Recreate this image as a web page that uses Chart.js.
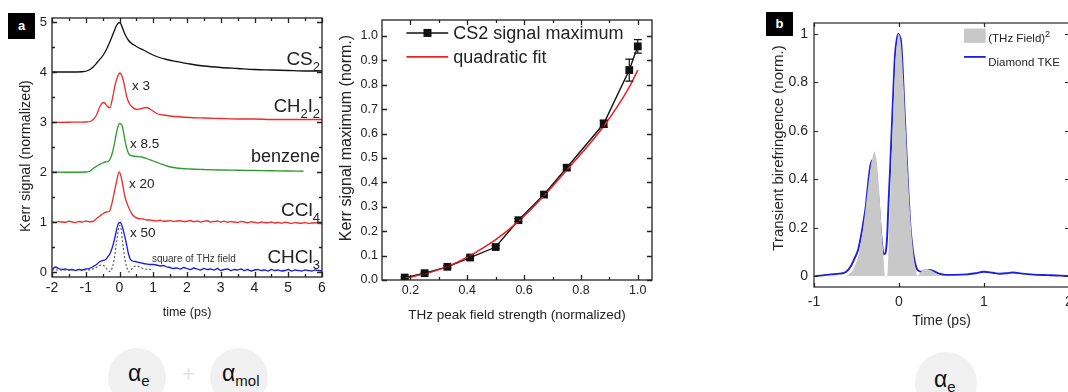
<!DOCTYPE html>
<html><head><meta charset="utf-8">
<script src="https://cdn.jsdelivr.net/npm/chart.js@4.4.1/dist/chart.umd.min.js"></script>
<style>
html,body{margin:0;padding:0;background:#fff;}
body{width:1068px;height:392px;overflow:hidden;position:relative;font-family:"Liberation Sans",Arial,sans-serif;}
canvas{position:absolute;top:0;}
#ca{left:0;}
#cb{left:335px;}
#cc{left:760px;}
.tag{position:absolute;background:#000;color:#fff;font-weight:bold;font-size:13px;line-height:26px;text-align:center;}
.circ{position:absolute;border-radius:50%;background:#f1f1f1;}
.al{position:absolute;font-size:23px;color:#111;white-space:nowrap;line-height:1;}
.al sub{font-size:15px;vertical-align:-5px;}
.plus{position:absolute;font-size:22px;color:#e4e4e4;line-height:1;}
</style></head>
<body>
<canvas id="ca" width="340" height="335"></canvas>
<canvas id="cb" width="330" height="335"></canvas>
<canvas id="cc" width="320" height="335"></canvas>
<div class="tag" style="left:8px;top:13px;width:27px;height:26px;">a</div>
<div class="tag" style="left:766px;top:12px;width:27px;height:24px;line-height:24px;">b</div>
<div class="circ" style="left:108px;top:348px;width:58px;height:58px;"></div>
<div class="circ" style="left:210px;top:348px;width:58px;height:58px;"></div>
<div class="circ" style="left:915px;top:352px;width:62px;height:62px;"></div>
<div class="al" style="left:128px;top:362px;">α<sub>e</sub></div>
<div class="al" style="left:222px;top:362px;">α<sub>mol</sub></div>
<div class="plus" style="left:182px;top:363px;">+</div>
<div class="al" style="left:934px;top:368px;">α<sub>e</sub></div>
<script>
// ---------- Panel a: Kerr signal traces (offset, normalized) ----------
const cs2T = [-2,-1.5,-1.1,-0.9,-0.78,-0.65,-0.48,-0.38,-0.28,-0.18,-0.08,0,0.05,0.11,0.18,0.26,0.36,0.46,0.58,0.71,0.9,1.1,1.4,1.69,2.09,2.5,3,3.5,4,4.5,5,5.5,6];
const cs2V = [4.0,4.0,4.005,4.04,4.1,4.2,4.34,4.46,4.61,4.78,4.94,4.99,4.95,4.84,4.73,4.64,4.57,4.53,4.48,4.44,4.37,4.31,4.25,4.21,4.16,4.12,4.09,4.07,4.05,4.04,4.03,4.02,4.02];

const ch2T = [-2,-1.5,-1,-0.87,-0.78,-0.68,-0.58,-0.48,-0.42,-0.36,-0.28,-0.2,-0.13,-0.05,0.01,0.06,0.11,0.17,0.23,0.3,0.36,0.51,0.65,0.8,0.95,1.1,1.3,1.5,2.09,2.5,3,3.5,4,4.5,5,5.5,6];
const ch2V = [2.99,2.995,3.0,3.01,3.05,3.14,3.31,3.39,3.37,3.31,3.29,3.5,3.74,3.92,3.98,3.94,3.84,3.65,3.47,3.36,3.31,3.25,3.27,3.29,3.24,3.17,3.14,3.12,3.09,3.08,3.07,3.06,3.06,3.05,3.05,3.05,3.05];

const bzT = [-2,-1.5,-1,-0.9,-0.78,-0.65,-0.53,-0.42,-0.33,-0.25,-0.18,-0.08,0,0.05,0.09,0.14,0.19,0.24,0.29,0.4,0.51,0.65,0.8,1,1.2,1.45,1.69,2.09,2.5,3,3.5,4,4.5,5,5.45];
const bzV = [2.0,1.995,2.0,2.01,2.07,2.13,2.17,2.2,2.21,2.3,2.47,2.81,2.97,2.96,2.9,2.72,2.54,2.42,2.35,2.32,2.31,2.3,2.27,2.22,2.17,2.11,2.08,2.06,2.05,2.04,2.035,2.03,2.025,2.02,2.015];

const cclT = [-2,-1.9,-1.8,-1.7,-1.6,-1.5,-1.4,-1.3,-1.2,-1.1,-1,-0.9,-0.8,-0.68,-0.58,-0.48,-0.38,-0.3,-0.24,-0.18,-0.1,-0.01,0.03,0.07,0.16,0.26,0.39,0.56,0.7,0.8,0.9,
  1,1.1,1.2,1.3,1.4,1.5,1.6,1.7,1.8,1.9,2,2.1,2.2,2.3,2.4,2.5,2.6,2.7,2.8,2.9,3,3.1,3.2,3.3,3.4,3.5,3.6,3.7,3.8,3.9,4,4.1,4.2,4.3,4.4,4.5,4.6,4.7,4.8,4.9,5,5.1,5.2,5.3,5.4,5.5,5.6,5.7,5.8,5.9,6];
const cclV = [1.0,0.99,1.01,1.0,0.995,1.015,1.0,0.99,1.01,1.0,1.02,1.005,1.01,1.07,1.12,1.17,1.2,1.21,1.33,1.51,1.77,2.0,1.95,1.84,1.51,1.31,1.14,1.07,1.06,1.04,1.04,
  1.03,1.02,1.035,1.015,1.02,1.03,1.01,1.02,1.025,1.01,1.015,1.03,1.005,1.02,1.0,1.015,1.025,1.0,1.01,1.02,1.0,1.015,0.995,1.01,1.0,0.99,1.01,1.0,0.985,1.005,0.995,0.98,1.0,0.99,0.985,1.0,0.98,0.99,0.975,0.995,0.985,0.97,0.99,0.98,0.975,0.99,0.97,0.98,0.985,0.97,0.965];

const chclT = [-2,-1.9,-1.8,-1.7,-1.6,-1.5,-1.4,-1.3,-1.2,-1.1,-1,-0.9,-0.78,-0.68,-0.58,-0.5,-0.43,-0.35,-0.28,-0.2,-0.13,-0.04,0.03,0.07,0.11,0.16,0.21,0.26,0.31,0.38,0.46,0.58,0.71,0.8,0.9,1,1.1,1.2,1.3,1.4,1.5,1.58,
  1.7,1.8,1.9,2,2.1,2.2,2.3,2.4,2.5,2.6,2.7,2.8,2.9,3,3.1,3.2,3.3,3.4,3.5,3.6,3.7,3.8,3.9,4,4.1,4.2,4.3,4.4,4.5,4.6,4.7,4.8,4.9,5,5.1,5.2,5.3,5.4,5.5,5.6,5.7,5.8,5.9,6];
const chclV = [0.04,0.1,0.07,0.05,0.06,0.04,0.05,0.03,0.05,0.04,0.06,0.07,0.11,0.15,0.21,0.23,0.24,0.3,0.37,0.52,0.71,0.96,0.99,0.93,0.84,0.7,0.55,0.38,0.27,0.22,0.21,0.19,0.17,0.16,0.15,0.15,0.14,0.12,0.13,0.1,0.09,0.07,
  0.08,0.06,0.09,0.07,0.05,0.08,0.06,0.04,0.07,0.05,0.06,0.04,0.07,0.03,0.05,0.06,0.03,0.05,0.04,0.06,0.03,0.05,0.02,0.04,0.05,0.03,0.04,0.02,0.05,0.03,0.04,0.02,0.03,0.05,0.02,0.04,0.03,0.02,0.04,0.03,0.02,0.04,0.03,0.02];

const thzT = [-2,-1.5,-1,-0.75,-0.62,-0.53,-0.43,-0.35,-0.28,-0.22,-0.16,-0.08,0,0.05,0.09,0.14,0.19,0.24,0.29,0.35,0.41,0.5,0.56,0.7,0.85,0.95];
const thzV = [0.04,0.04,0.04,0.07,0.12,0.14,0.11,0.04,0.01,0.08,0.24,0.63,0.93,0.85,0.6,0.35,0.16,0.05,0.0,0.05,0.1,0.12,0.11,0.07,0.05,0.05];

const aXTicks = [-2,-1,0,1,2,3,4,5,6];
const aYTicks = [0,1,2,3,4,5];

// ---------- Middle panel: signal maximum vs field ----------
const fieldX = [0.18,0.25,0.33,0.41,0.5,0.58,0.67,0.75,0.88,0.97,1.0];
const kerrMax = [0.01,0.028,0.054,0.092,0.135,0.245,0.35,0.46,0.64,0.86,0.957];
const kerrErr = [0.004,0.004,0.005,0.006,0.006,0.006,0.008,0.01,0.015,0.045,0.028];
const fitX = [0.18,0.25,0.33,0.41,0.5,0.58,0.67,0.75,0.88,0.97,1.0];
const fitY = [0.007,0.025,0.055,0.1,0.165,0.24,0.345,0.45,0.63,0.79,0.86];
const bXTicks = [0.2,0.4,0.6,0.8,1.0];
const bYTicks = [0,0.1,0.2,0.3,0.4,0.5,0.6,0.7,0.8,0.9,1.0];

// ---------- Panel b: diamond TKE ----------
const tkeT = [-1,-0.9,-0.8,-0.7,-0.62,-0.56,-0.52,-0.48,-0.45,-0.42,-0.39,-0.37,-0.34,-0.31,-0.28,-0.26,-0.24,-0.21,-0.18,-0.16,-0.14,-0.126,-0.105,-0.086,-0.065,-0.047,-0.025,-0.008,0.01,0.024,0.04,0.059,0.085,0.11,0.135,0.16,0.185,0.21,0.24,0.27,0.31,0.36,0.41,0.47,0.55,0.65,0.8,0.9,1,1.1,1.19,1.27,1.34,1.45,1.58,1.75,1.9,2];
const tkeV = [0,0.003,0.007,0.01,0.018,0.045,0.075,0.11,0.16,0.22,0.29,0.36,0.45,0.48,0.445,0.39,0.31,0.17,0.09,0.095,0.16,0.28,0.44,0.6,0.78,0.913,0.98,1.0,0.99,0.97,0.88,0.73,0.53,0.35,0.2,0.114,0.06,0.03,0.02,0.018,0.02,0.025,0.02,0.01,0.005,0.005,0.007,0.012,0.018,0.014,0.01,0.012,0.015,0.01,0.006,0.004,0.002,0];
const thz2T = [-0.62,-0.55,-0.48,-0.42,-0.37,-0.33,-0.29,-0.26,-0.23,-0.2,-0.18,-0.165,-0.137,-0.12,-0.1,-0.08,-0.06,-0.04,-0.01,0.01,0.03,0.055,0.08,0.105,0.13,0.155,0.18,0.2,0.216,0.24,0.3,0.37,0.44,0.5];
const thz2V = [0,0.02,0.08,0.2,0.35,0.46,0.515,0.47,0.34,0.17,0.07,0,0,0.15,0.35,0.55,0.75,0.9,1.0,0.99,0.93,0.78,0.6,0.42,0.26,0.14,0.06,0.02,0,0.01,0.03,0.025,0.01,0];
const cXTicks = [-1,0,1,2];
const cYTicks = [0,0.2,0.4,0.6,0.8,1];

// ---------- helpers ----------
const FONT = '"Liberation Sans", Arial, Helvetica, sans-serif';
Chart.defaults.font.family = FONT;
const pts = (T, V) => T.map((t, i) => ({x: t, y: V[i]}));
const fixTicks = vals => s => { s.ticks = vals.map(v => ({value: v})); };

const framePlugin = {
  id: 'frame',
  afterDatasetsDraw(chart, args, o) {
    const {ctx, chartArea: a, scales: {x, y}} = chart;
    ctx.save();
    ctx.strokeStyle = o.color; ctx.lineWidth = o.width;
    ctx.strokeRect(a.left, a.top, a.right - a.left, a.bottom - a.top);
    ctx.beginPath();
    const xt = (vals, len) => vals.forEach(v => { const p = Math.round(x.getPixelForValue(v)) + 0.5;
      ctx.moveTo(p, a.bottom); ctx.lineTo(p, a.bottom - len);
      if (o.top) { ctx.moveTo(p, a.top); ctx.lineTo(p, a.top + len); } });
    const yt = (vals, len) => vals.forEach(v => { const p = Math.round(y.getPixelForValue(v)) + 0.5;
      ctx.moveTo(a.left, p); ctx.lineTo(a.left + len, p);
      if (o.right) { ctx.moveTo(a.right, p); ctx.lineTo(a.right - len, p); } });
    xt(o.xMajor || [], o.len); xt(o.xMinor || [], o.minLen);
    yt(o.yMajor || [], o.len); yt(o.yMinor || [], o.minLen);
    ctx.stroke();
    ctx.restore();
  }
};

const notesPlugin = {
  id: 'notes',
  afterDatasetsDraw(chart, args, o) {
    const {ctx, scales: {x, y}} = chart;
    ctx.save();
    for (const n of (o.marks || [])) {
      if (n.type === 'line') {
        ctx.strokeStyle = n.color; ctx.lineWidth = n.width;
        const py = y.getPixelForValue(n.y);
        ctx.beginPath(); ctx.moveTo(x.getPixelForValue(n.x1), py); ctx.lineTo(x.getPixelForValue(n.x2), py); ctx.stroke();
        if (n.marker) { const mx = x.getPixelForValue(n.marker); ctx.fillStyle = n.color; ctx.fillRect(mx - n.ms/2, py - n.ms/2, n.ms, n.ms); }
      } else if (n.type === 'box') {
        ctx.fillStyle = n.color;
        const x1 = x.getPixelForValue(n.x1), x2 = x.getPixelForValue(n.x2), y1 = y.getPixelForValue(n.y1), y2 = y.getPixelForValue(n.y2);
        ctx.fillRect(x1, y2, x2 - x1, y1 - y2);
      }
    }
    for (const n of (o.items || [])) {
      const fs = n.size, ss = n.subSize || Math.round(fs * 0.7);
      const segs = n.parts.map(p => ({...p, font: `${(p.sub || p.sup) ? ss : fs}px ${FONT}`}));
      let w = 0;
      segs.forEach(s => { ctx.font = s.font; s.w = ctx.measureText(s.t).width; w += s.w; });
      let px = n.x === 'right' ? chart.chartArea.right - 2 - w : x.getPixelForValue(n.x);
      const py = y.getPixelForValue(n.y);
      ctx.fillStyle = n.color || '#222'; ctx.textBaseline = 'alphabetic'; ctx.textAlign = 'left';
      segs.forEach(s => { ctx.font = s.font; ctx.fillText(s.t, px, py + (s.sub ? fs * 0.32 : s.sup ? -fs * 0.42 : 0)); px += s.w; });
    }
    for (const v of (o.vtitles || [])) {
      ctx.save();
      ctx.translate(v.cx, v.cy); ctx.rotate(-Math.PI / 2);
      ctx.font = `${v.size}px ${FONT}`; ctx.fillStyle = v.color; ctx.textAlign = 'center'; ctx.textBaseline = 'middle';
      ctx.fillText(v.text, 0, 0);
      ctx.restore();
    }
    ctx.restore();
  }
};

const errPlugin = {
  id: 'errbars',
  afterDatasetsDraw(chart, args, o) {
    if (!o.xs) return;
    const {ctx, scales: {x, y}} = chart;
    ctx.save(); ctx.strokeStyle = o.color; ctx.lineWidth = 1.2; ctx.beginPath();
    o.xs.forEach((xv, i) => {
      const px = x.getPixelForValue(xv), top = y.getPixelForValue(o.ys[i] + o.errs[i]), bot = y.getPixelForValue(o.ys[i] - o.errs[i]);
      ctx.moveTo(px, top); ctx.lineTo(px, bot);
      ctx.moveTo(px - o.cap, top); ctx.lineTo(px + o.cap, top);
      ctx.moveTo(px - o.cap, bot); ctx.lineTo(px + o.cap, bot);
    });
    ctx.stroke(); ctx.restore();
  }
};

function axis(o) {
  return {
    type: 'linear', min: o.min, max: o.max,
    afterBuildTicks: fixTicks(o.ticks),
    afterFit: s => { if (o.w !== undefined) s.width = o.w; if (o.h !== undefined) s.height = o.h; },
    grid: {display: false, drawTicks: false}, border: {display: false},
    ticks: {padding: o.pad, font: {size: o.fs}, color: o.color, callback: o.fmt, autoSkip: false, maxRotation: 0},
    title: {display: !!o.title, text: o.title || '', font: {size: o.tfs}, color: o.color, padding: o.tpad}
  };
}
const base = {responsive: false, animation: false, events: [],
  elements: {point: {radius: 0}, line: {borderWidth: 1.3, cubicInterpolationMode: 'monotone', fill: false}}};

// ---------- Chart a ----------
new Chart(document.getElementById('ca'), {
  type: 'line',
  data: {datasets: [
    {data: pts(thzT, thzV), borderColor: '#555', borderDash: [2, 2], borderWidth: 1.1},
    {data: pts(chclT, chclV), borderColor: '#1c1ce6'},
    {data: pts(cclT, cclV), borderColor: '#f22a2a'},
    {data: pts(bzT, bzV), borderColor: '#2f9a2f'},
    {data: pts(ch2T, ch2V), borderColor: '#f22a2a'},
    {data: pts(cs2T, cs2V), borderColor: '#111'}
  ]},
  options: {...base,
    layout: {padding: {left: 0, top: 18, right: 18, bottom: 0}},
    plugins: {legend: {display: false}, tooltip: {enabled: false},
      frame: {color: '#222', width: 1.3, len: 5, minLen: 3, top: true, right: true,
        xMajor: aXTicks, xMinor: [-1.5,-0.5,0.5,1.5,2.5,3.5,4.5,5.5], yMajor: aYTicks, yMinor: [0.5,1.5,2.5,3.5,4.5]},
      notes: {items: [
        {x: 'right', y: 4.14, size: 19, parts: [{t: 'CS'}, {t: '2', sub: true}]},
        {x: 'right', y: 3.2, size: 18.5, parts: [{t: 'CH'}, {t: '2', sub: true}, {t: 'I'}, {t: '2', sub: true}]},
        {x: 'right', y: 2.2, size: 18, parts: [{t: 'benzene'}]},
        {x: 'right', y: 1.12, size: 19, parts: [{t: 'CCl'}, {t: '4', sub: true}]},
        {x: 'right', y: 0.18, size: 19, parts: [{t: 'CHCl'}, {t: '3', sub: true}]},
        {x: 0.37, y: 3.64, size: 13.5, parts: [{t: 'x 3'}]},
        {x: 0.31, y: 2.48, size: 13.5, parts: [{t: 'x 8.5'}]},
        {x: 0.28, y: 1.68, size: 13.5, parts: [{t: 'x 20'}]},
        {x: 0.31, y: 0.7, size: 13.5, parts: [{t: 'x 50'}]},
        {x: 0.96, y: 0.2, size: 10, color: '#333', parts: [{t: 'square of THz field'}]}
      ],
      vtitles: [{text: 'Kerr signal (normalized)', cx: 26, cy: 156, size: 14.3, color: '#222'}]}},
    scales: {
      x: axis({min: -2, max: 6, ticks: aXTicks, h: 58, pad: 3, fs: 14, color: '#222', fmt: v => String(v),
        title: 'time (ps)', tfs: 12.5, tpad: {top: 0, bottom: 14.5}}),
      y: axis({min: -0.1, max: 5.08, ticks: aYTicks, w: 52, pad: 5, fs: 13, color: '#222', fmt: v => String(v)})
    }
  },
  plugins: [framePlugin, notesPlugin]
});

// ---------- Middle chart ----------
new Chart(document.getElementById('cb'), {
  type: 'line',
  data: {datasets: [
    {data: pts(fitX, fitY), borderColor: '#e8202a', borderWidth: 1.5},
    {data: pts(fieldX, kerrMax), borderColor: '#111', borderWidth: 1.4, cubicInterpolationMode: 'default', tension: 0,
      pointRadius: 5.5, pointStyle: 'rect', pointBackgroundColor: '#111', pointBorderColor: '#111', pointBorderWidth: 0}
  ]},
  options: {...base,
    layout: {padding: {left: 0, top: 20, right: 13, bottom: 0}},
    plugins: {legend: {display: false}, tooltip: {enabled: false},
      frame: {color: '#222', width: 1.3, len: 5, minLen: 3, top: true, right: true,
        xMajor: bXTicks, xMinor: [0.3,0.5,0.7,0.9], yMajor: bYTicks, yMinor: []},
      errbars: {xs: fieldX, ys: kerrMax, errs: kerrErr, cap: 4, color: '#111'},
      notes: {
        marks: [
          {type: 'line', x1: 0.186, x2: 0.333, y: 1.012, color: '#111', width: 1.5, marker: 0.26, ms: 8},
          {type: 'line', x1: 0.186, x2: 0.333, y: 0.914, color: '#e8202a', width: 1.6}
        ],
        items: [
          {x: 0.351, y: 0.986, size: 18, parts: [{t: 'CS2 signal maximum'}]},
          {x: 0.351, y: 0.888, size: 18, parts: [{t: 'quadratic fit'}]}
        ],
        vtitles: [{text: 'Kerr signal maximum (norm.)', cx: 12, cy: 138, size: 16, color: '#222'}]}},
    scales: {
      x: axis({min: 0.1, max: 1.05, ticks: bXTicks, h: 55, pad: 3, fs: 12.5, color: '#222', fmt: v => v.toFixed(1),
        title: 'THz peak field strength (normalized)', tfs: 13.5, tpad: {top: 0, bottom: 12}}),
      y: axis({min: 0, max: 1.065, ticks: bYTicks, w: 47, pad: 4, fs: 12.5, color: '#222', fmt: v => v.toFixed(1)})
    }
  },
  plugins: [framePlugin, errPlugin, notesPlugin]
});

// ---------- Chart b ----------
new Chart(document.getElementById('cc'), {
  type: 'line',
  data: {datasets: [
    {data: pts(thz2T, thz2V), borderWidth: 0, borderColor: 'rgba(0,0,0,0)', backgroundColor: '#c8c8c8', fill: 'origin', cubicInterpolationMode: 'default', tension: 0.2},
    {data: pts(tkeT, tkeV), borderColor: '#1e1ee0', borderWidth: 1.9}
  ]},
  options: {...base,
    layout: {padding: {left: 0, top: 23, right: 11, bottom: 0}},
    plugins: {legend: {display: false}, tooltip: {enabled: false}, filler: {propagate: false},
      frame: {color: '#262626', width: 1.2, len: 4, minLen: 0, top: true, right: true,
        xMajor: cXTicks, yMajor: cYTicks},
      notes: {
        marks: [
          {type: 'box', x1: 0.765, x2: 1.02, y1: 0.963, y2: 1.022, color: '#c8c8c8'},
          {type: 'line', x1: 0.765, x2: 1.02, y: 0.905, color: '#1e1ee0', width: 1.8}
        ],
        items: [
          {x: 1.05, y: 0.967, size: 11.5, subSize: 9, parts: [{t: '(THz Field)'}, {t: '2', sup: true}]},
          {x: 1.05, y: 0.868, size: 11.5, parts: [{t: 'Diamond TKE'}]}
        ],
        vtitles: [{text: 'Transient birefringence (norm.)', cx: 19, cy: 148, size: 15, color: '#262626'}]}},
    scales: {
      x: axis({min: -1, max: 2, ticks: cXTicks, h: 48, pad: 7, fs: 14, color: '#262626', fmt: v => String(v),
        title: 'Time (ps)', tfs: 14, tpad: {top: 0, bottom: 5}}),
      y: axis({min: -0.045, max: 1.045, ticks: cYTicks, w: 54, pad: 6, fs: 14, color: '#262626',
        fmt: v => (v === 0 || v === 1) ? String(v) : v.toFixed(1)})
    }
  },
  plugins: [framePlugin, notesPlugin]
});
</script>
</body></html>
